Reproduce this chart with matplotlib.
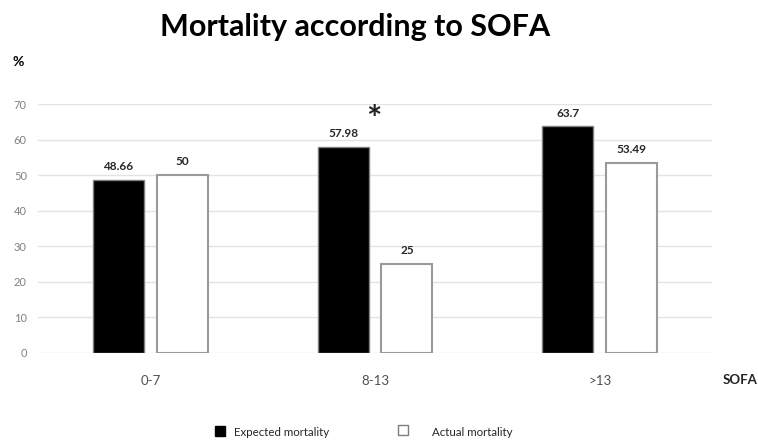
# Mortality by SOFA band: expected vs actual, grouped bars in the original Excel look.
import numpy as np
import matplotlib
matplotlib.use("Agg")
import matplotlib.pyplot as plt

plt.rcParams["font.family"] = ["Lato", "DejaVu Sans"]

categories = ["0-7", "8-13", ">13"]
expected = [48.66, 57.98, 63.7]
actual = [50, 25, 53.49]
expected_labels = ["48.66", "57.98", "63.7"]
actual_labels = ["50", "25", "53.49"]
yticks = [0, 10, 20, 30, 40, 50, 60, 70]

fig = plt.figure(figsize=(7.58, 4.47), dpi=100)
ax = fig.add_axes([0.0501, 0.2103, 0.8892, 0.557])

x = np.arange(len(categories))
w = 0.227
off = 0.142
ax.bar(x - off, expected, w, color="black", edgecolor="#7f7f7f", lw=1.0, zorder=3)
ax.bar(x + off, actual, w, color="white", edgecolor="#9a9a9a", lw=1.5, zorder=3)

for xi, v, s in zip(x - off, expected, expected_labels):
    ax.text(xi, v + 2.2, s, ha="center", va="bottom", fontsize=8.5, fontweight="bold", color="#262626")
for xi, v, s in zip(x + off, actual, actual_labels):
    ax.text(xi, v + 2.2, s, ha="center", va="bottom", fontsize=8.5, fontweight="bold", color="#262626")

ax.text(0.995, 65.5, "*", ha="center", va="center", fontsize=26, fontweight="bold", color="#222222")

ax.set_xlim(-0.5, 2.5)
ax.set_ylim(0, 70)
ax.set_yticks(yticks)
ax.yaxis.grid(True, color="#e3e3e3", lw=1.0, zorder=0)
ax.set_axisbelow(True)
for sp in ax.spines.values():
    sp.set_visible(False)
ax.tick_params(axis="y", length=0, labelsize=8, labelcolor="#808080", pad=8)
ax.tick_params(axis="x", length=0, labelsize=9.5, labelcolor="#505050", pad=16)
ax.set_xticks(x)
ax.set_xticklabels(categories)

fig.text(0.468, 0.94, "Mortality according to SOFA", ha="center", va="center",
         fontsize=22, fontweight="bold", color="black")
fig.text(0.024, 0.862, "%", ha="center", va="center", fontsize=10, fontweight="bold")
fig.text(0.976, 0.15, "SOFA", ha="center", va="center", fontsize=9.5, fontweight="bold", color="#222222")

# legend drawn as figure markers + text to match the spread-out original
fig.add_artist(plt.Line2D([0.290], [0.036], marker="s", ms=7, color="black", mec="black", ls=""))
fig.text(0.309, 0.033, "Expected mortality", ha="left", va="center", fontsize=8.3, color="#262626")
fig.add_artist(plt.Line2D([0.532], [0.038], marker="s", ms=7, mfc="white", mec="#7f7f7f", ls=""))
fig.text(0.570, 0.033, "Actual mortality", ha="left", va="center", fontsize=8.3, color="#262626")

fig.savefig("out.png", dpi=100)
